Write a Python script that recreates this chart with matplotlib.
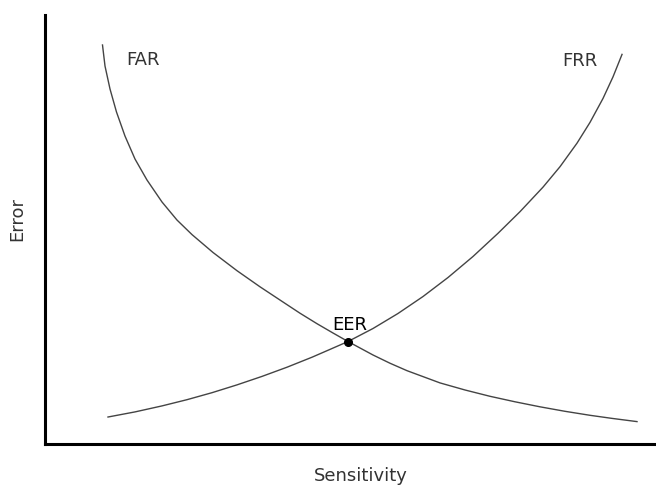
import matplotlib
matplotlib.use("Agg")
import matplotlib.pyplot as plt

# values (sensitivity 0-100, error 0-100)
far_x = [9.41, 9.82, 10.64, 11.70, 13.09, 14.73, 16.69, 19.15, 21.60, 24.06,
         27.50, 31.42, 35.19, 38.95, 41.73, 44.52, 47.14, 49.59, 53.68, 56.46,
         59.25, 64.65, 68.74, 72.83, 76.92, 81.01, 85.11, 89.20, 92.80, 96.89]
far_y = [93.01, 88.11, 82.75, 77.39, 71.79, 66.43, 61.54, 56.41, 52.21, 48.81,
         44.64, 40.40, 36.64, 33.10, 30.49, 28.04, 25.87, 23.89, 20.75, 18.83,
         17.09, 14.24, 12.59, 11.12, 9.84, 8.67, 7.62, 6.69, 5.97, 5.22]

frr_x = [10.31, 14.73, 19.15, 23.24, 27.33, 31.42, 35.52, 39.61, 43.70, 46.64,
         49.59, 53.68, 57.77, 61.87, 65.96, 70.05, 74.14, 77.74, 81.51, 84.29,
         87.07, 89.20, 91.33, 92.96, 94.44]
frr_y = [6.29, 7.48, 8.88, 10.33, 11.96, 13.78, 15.76, 17.90, 20.23, 22.05,
         23.89, 26.92, 30.42, 34.38, 38.81, 43.71, 49.11, 54.15, 59.88, 64.64,
         70.12, 74.97, 80.56, 85.57, 90.82]

eer_x = 49.59
eer_y = 23.89

line_col = "#444444"
text_col = "#333333"

fig = plt.figure(figsize=(6.56, 4.86), dpi=100)
ax = fig.add_axes([45 / 656, 42 / 486, 611 / 656, 429 / 486])

ax.plot(far_x, far_y, color=line_col, lw=1.0, solid_joinstyle="round")
ax.plot(frr_x, frr_y, color=line_col, lw=1.0, solid_joinstyle="round")
ax.plot([eer_x], [eer_y], "o", color="black", markersize=5.5)

ax.text(16.0, 89.5, "FAR", fontsize=13, color=text_col, ha="center", va="center")
ax.text(87.6, 89.2, "FRR", fontsize=13, color=text_col, ha="center", va="center")
ax.text(49.9, 27.7, "EER", fontsize=13, color="black", ha="center", va="center")

ax.set_xlim(0, 100)
ax.set_ylim(0, 100)
ax.set_xticks([])
ax.set_yticks([])
for side in ["top", "right"]:
    ax.spines[side].set_visible(False)
for side in ["left", "bottom"]:
    ax.spines[side].set_linewidth(2.2)
    ax.spines[side].set_color("black")

ax.set_xlabel("Sensitivity", fontsize=13, color=text_col)
ax.xaxis.set_label_coords(0.517, -0.053)
ax.set_ylabel("Error", fontsize=13, color=text_col)
ax.yaxis.set_label_coords(-0.03, 0.524)

fig.savefig("out.png", dpi=100)
